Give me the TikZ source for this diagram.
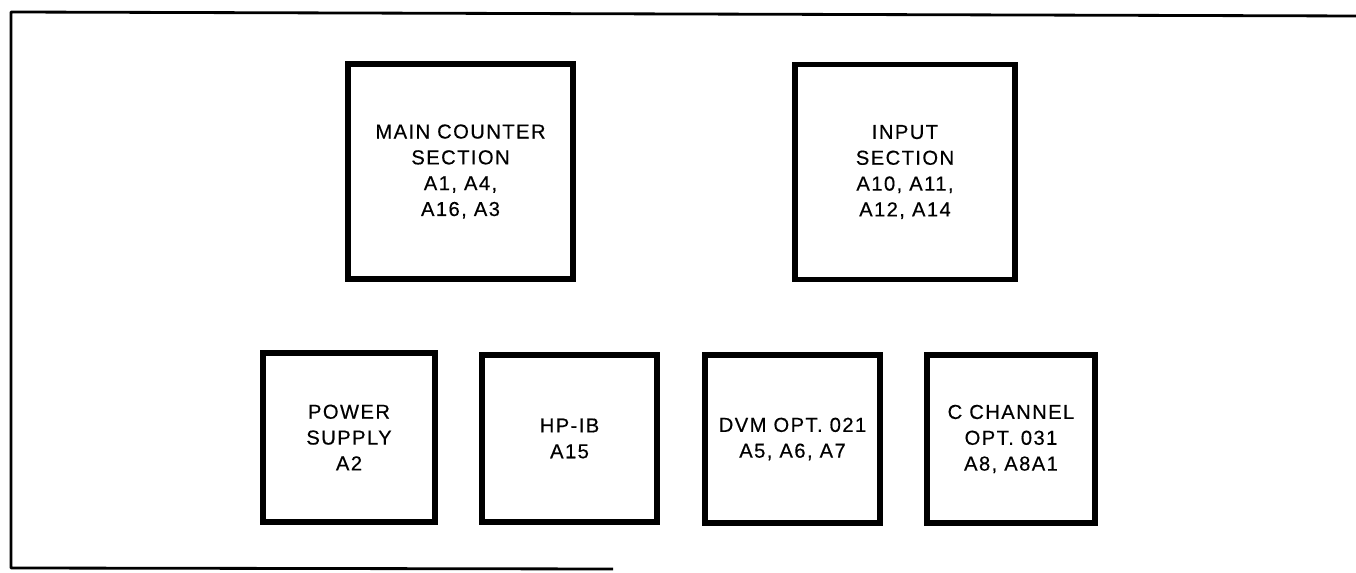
\documentclass[tikz,border=0pt]{standalone}
\usepackage{fontspec}
\setmainfont{Liberation Sans}
\newfontfamily\lblfont[LetterSpace=7,FakeBold=0.4]{Liberation Sans}
\usepackage{tikz}
\usetikzlibrary{positioning}

\begin{document}
\begin{tikzpicture}[x=0.02cm,y=-0.02cm,
    unitbox/.style={draw=black,line width=3pt,align=center,inner sep=0pt,
      font=\lblfont\fontsize{11.5}{14.7}\selectfont},
    frameline/.style={draw=black,line width=1.6pt,line join=round}]
        \useasboundingbox (0,0) rectangle (1356,573);
        % outer frame, open on the right
        \draw[frameline] (1356,16) -- (11,12) -- (11,568) -- (613,569);
        % upper row
        \node[unitbox,minimum width=4.5cm,minimum height=4.3cm] (maincnt) at (460.5,171.5)
          {MAIN COUNTER\\SECTION\\A1, A4,\\A16, A3};
        \node[unitbox,minimum width=4.4cm,minimum height=4.3cm] (inputsec) at (905,172)
          {INPUT\\SECTION\\A10, A11,\\A12, A14};
        % lower row
        \node[unitbox,minimum width=3.44cm,minimum height=3.38cm] (pwrsup) at (349,437.5)
          {POWER\\SUPPLY\\A2};
        \node[unitbox,minimum width=3.5cm,minimum height=3.34cm] (hpib) at (569.5,438.5)
          {HP-IB\\A15};
        \node[unitbox,minimum width=3.5cm,minimum height=3.36cm] (dvm) at (792.5,439)
          {DVM OPT. 021\\A5, A6, A7};
        \node[unitbox,minimum width=3.36cm,minimum height=3.36cm] (cchan) at (1011,439)
          {C CHANNEL\\OPT. 031\\A8, A8A1};
\end{tikzpicture}
\end{document}
